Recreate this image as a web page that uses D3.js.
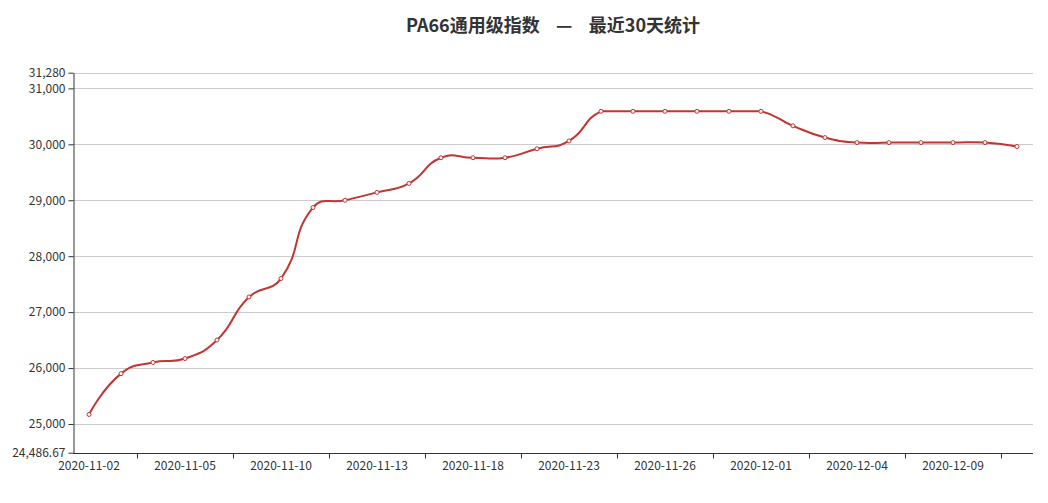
<!DOCTYPE html>
<html><head><meta charset="utf-8">
<script src="https://cdn.jsdelivr.net/npm/d3@7"></script>
<style>
html,body{margin:0;padding:0;background:#fff;}
svg{display:block;font-family:"Microsoft YaHei","Noto Sans CJK SC","Noto Sans",sans-serif;}
</style></head>
<body>
<svg id="chart" width="1048" height="503"></svg>
<script>
const titleText = "PA66通用级指数\u00a0\u00a0\u00a0\u00a0—\u00a0\u00a0\u00a0\u00a0最近30天统计";
const dates = ["2020-11-02","2020-11-03","2020-11-04","2020-11-05","2020-11-06","2020-11-09","2020-11-10","2020-11-11","2020-11-12","2020-11-13","2020-11-16","2020-11-17","2020-11-18","2020-11-19","2020-11-20","2020-11-23","2020-11-24","2020-11-25","2020-11-26","2020-11-27","2020-11-30","2020-12-01","2020-12-02","2020-12-03","2020-12-04","2020-12-07","2020-12-08","2020-12-09","2020-12-10","2020-12-11"];
const values = [25170,25900,26100,26170,26500,27270,27600,28870,29000,29140,29300,29760,29760,29760,29920,30060,30590,30590,30590,30590,30590,30590,30330,30120,30030,30030,30030,30030,30030,29960];
const yMin = 24486.67, yMax = 31280;
const yTicks = [24486.67,25000,26000,27000,28000,29000,30000,31000,31280];
const labelEvery = 3;

const W = 1048, H = 503;
const m = {left:73, right:15, top:72.7, bottom:50.3};
const svg = d3.select("#chart");

const x = d3.scaleBand().domain(dates).range([m.left, W - m.right]).paddingInner(0).paddingOuter(0);
const y = d3.scaleLinear().domain([yMin, yMax]).range([H - m.bottom, m.top]);
const cx = d => x(d) + x.bandwidth()/2;

// grid
svg.append("g").selectAll("line").data(yTicks.filter(t => t !== yMin)).join("line")
  .attr("x1", m.left).attr("x2", W - m.right)
  .attr("y1", d => Math.round(y(d)) + 0.5).attr("y2", d => Math.round(y(d)) + 0.5)
  .attr("stroke", "#ccc").attr("stroke-width", 1);

// y axis
const fmt = d => d === yMin ? "24,486.67" : d3.format(",")(d);
const yAxis = svg.append("g").attr("transform", `translate(${m.left + 0.5},0)`)
  .call(d3.axisLeft(y).tickValues(yTicks).tickFormat(fmt).tickSize(5).tickSizeOuter(0).tickPadding(3));
yAxis.select(".domain").attr("stroke", "#333");
yAxis.selectAll(".tick line").attr("stroke", "#333");
yAxis.selectAll("text").attr("fill", "#333").style("font-size", "12px")
  .style("font-family", '"Microsoft YaHei","Noto Sans CJK SC",sans-serif');

// x axis
const xAxisY = Math.round(H - m.bottom) + 0.5;
const xg = svg.append("g");
xg.append("line").attr("x1", m.left).attr("x2", W - m.right).attr("y1", xAxisY).attr("y2", xAxisY).attr("stroke", "#333");
const tickIdx = dates.map((d,i)=>i).filter(i => i % labelEvery === 1);
xg.selectAll(".xt").data(tickIdx).join("line")
  .attr("x1", i => Math.round(x(dates[i]) + x.bandwidth()) + 0.5)
  .attr("x2", i => Math.round(x(dates[i]) + x.bandwidth()) + 0.5)
  .attr("y1", xAxisY).attr("y2", xAxisY + 5).attr("stroke", "#333");
xg.selectAll(".xl").data(dates.filter((d,i) => i % labelEvery === 0)).join("text")
  .attr("x", d => cx(d)).attr("y", xAxisY + 13)
  .attr("text-anchor", "middle").attr("dominant-baseline", "middle")
  .attr("fill", "#333").style("font-size", "12px").text(d => d);

// ECharts-like smooth line
const pts = values.map((v,i) => [cx(dates[i]), y(v)]);
const smooth = 0.5;
const minP = [d3.min(pts, p=>p[0]), d3.min(pts, p=>p[1])];
const maxP = [d3.max(pts, p=>p[0]), d3.max(pts, p=>p[1])];
const clamp = p => [Math.max(minP[0], Math.min(maxP[0], p[0])), Math.max(minP[1], Math.min(maxP[1], p[1]))];
const path = d3.path();
let cp0 = pts[0].slice();
path.moveTo(pts[0][0], pts[0][1]);
for (let i = 1; i < pts.length; i++) {
  const p = pts[i], prev = pts[i-1], next = pts[i+1];
  let cp1, ratio = 0.5, v = [0,0];
  if (!next) { cp1 = p.slice(); }
  else {
    v = [next[0]-prev[0], next[1]-prev[1]];
    const lp = Math.hypot(p[0]-prev[0], p[1]-prev[1]);
    const ln = Math.hypot(p[0]-next[0], p[1]-next[1]);
    ratio = ln / (ln + lp);
    cp1 = [p[0] - v[0]*smooth*(1-ratio), p[1] - v[1]*smooth*(1-ratio)];
  }
  const a = clamp(cp0), b = clamp(cp1);
  path.bezierCurveTo(a[0], a[1], b[0], b[1], p[0], p[1]);
  cp0 = [p[0] + v[0]*smooth*ratio, p[1] + v[1]*smooth*ratio];
}
svg.append("path").attr("d", path.toString()).attr("fill", "none")
  .attr("stroke", "#c23531").attr("stroke-width", 2).attr("stroke-linejoin", "round");

svg.append("g").selectAll("circle").data(values).join("circle")
  .attr("cx", (v,i) => cx(dates[i])).attr("cy", v => y(v)).attr("r", 2)
  .attr("fill", "#fff").attr("stroke", "#c23531").attr("stroke-width", 1);

// title
svg.append("text").attr("x", (m.left + W - m.right)/2).attr("y", 27)
  .attr("text-anchor", "middle").attr("dominant-baseline", "middle")
  .style("white-space", "pre")
  .attr("fill", "#333").style("font-size", "18px").style("font-weight", "bold")
  .text(titleText);
</script>
</body></html>
